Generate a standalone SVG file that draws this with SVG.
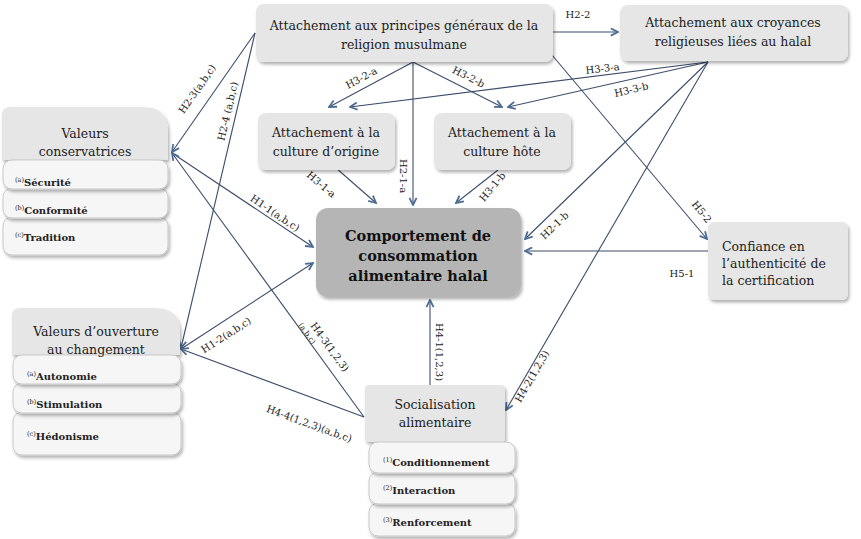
<svg xmlns="http://www.w3.org/2000/svg" width="861" height="539" viewBox="0 0 861 539">
<defs>
<filter id="sh" x="-10%" y="-10%" width="125%" height="135%">
<feDropShadow dx="1.5" dy="2.5" stdDeviation="1.8" flood-color="#000" flood-opacity="0.3"/>
</filter>
<marker id="ah" viewBox="0 0 10 10" refX="9" refY="5" markerWidth="9" markerHeight="9" markerUnits="userSpaceOnUse" orient="auto">
<path d="M1,1 L9,5 L1,9" fill="none" stroke="#4d6d94" stroke-width="2"/>
</marker>
</defs>
<style>
.box{fill:#e6e6e6;filter:url(#sh)}
.main{fill:#b5b5b5;filter:url(#sh)}
.sub{fill:#f6f6f6;stroke:#c9c9c9;stroke-width:1;filter:url(#sh)}
.t{font-family:"DejaVu Serif","Liberation Serif",serif;font-size:12.5px;fill:#222;text-anchor:middle}
.tm{font-family:"DejaVu Serif","Liberation Serif",serif;font-size:14.5px;font-weight:bold;fill:#111;text-anchor:middle}
.ts{font-family:"DejaVu Serif","Liberation Serif",serif;font-size:10px;font-weight:bold;fill:#222}
.sup{font-size:6.5px;font-weight:normal}
.c{stroke:#3d4d6a;stroke-width:1.1;fill:none}
.ca{stroke:#3d4d6a;stroke-width:1.1;fill:none;marker-end:url(#ah)}
.l{font-family:"DejaVu Serif","Liberation Serif",serif;font-size:10px;fill:#222;text-anchor:middle}
.ls{font-size:7.5px}
</style>
<rect width="861" height="539" fill="#fff"/>

<g id="connectors">
<line class="ca" x1="553" y1="32" x2="618" y2="32"/>
<line class="ca" x1="255" y1="33" x2="172" y2="152"/>
<line class="ca" x1="255" y1="33" x2="181" y2="348"/>
<line class="ca" x1="413" y1="62" x2="329" y2="107"/>
<line class="ca" x1="413" y1="62" x2="502" y2="107"/>
<line class="ca" x1="413" y1="62" x2="413" y2="205"/>
<line class="ca" x1="708" y1="62" x2="350" y2="107"/>
<line class="ca" x1="708" y1="62" x2="508" y2="107"/>
<line class="ca" x1="708" y1="62" x2="525" y2="239"/>
<line class="ca" x1="708" y1="62" x2="506" y2="410"/>
<line class="ca" x1="552" y1="55" x2="707" y2="239"/>
<line class="ca" x1="708" y1="251" x2="525" y2="251"/>
<line class="ca" x1="336" y1="168" x2="376" y2="203"/>
<line class="ca" x1="498" y1="170" x2="456" y2="203"/>
<line class="ca" x1="172" y1="153" x2="313" y2="247"/>
<line class="ca" x1="181" y1="349" x2="313" y2="263"/>
<line class="ca" x1="364" y1="417" x2="172" y2="153"/>
<line class="ca" x1="364" y1="417" x2="181" y2="349"/>
<line class="ca" x1="430" y1="386" x2="430" y2="300"/>
</g>

<g id="labels">
<text class="l" x="578" y="18">H2-2</text>
<text class="l" transform="translate(200,91) rotate(-55)">H2-3(a,b,c)</text>
<text class="l" transform="translate(231,112) rotate(-77)">H2-4 (a,b,c)</text>
<text class="l" transform="translate(363,81) rotate(-28)">H3-2-a</text>
<text class="l" transform="translate(467,80) rotate(27)">H3-2-b</text>
<text class="l" transform="translate(603,72) rotate(-7)">H3-3-a</text>
<text class="l" transform="translate(632,93) rotate(-13)">H3-3-b</text>
<text class="l" transform="translate(400,176) rotate(90)">H2-1-a</text>
<text class="l" transform="translate(319,187) rotate(40)">H3-1-a</text>
<text class="l" transform="translate(495,189) rotate(-50)">H3-1-b</text>
<text class="l" transform="translate(273,216) rotate(34)">H1-1(a,b,c)</text>
<text class="l" transform="translate(228,338) rotate(-33)">H1-2(a,b,c)</text>
<text class="l" transform="translate(327,349) rotate(54)">H4-3(1,2,3)</text>
<text class="l ls" transform="translate(305,335) rotate(54)">(a,b,c)</text>
<text class="l" transform="translate(308,427) rotate(20)">H4-4(1,2,3)(a,b,c)</text>
<text class="l" transform="translate(436,352) rotate(90)">H4-1(1,2,3)</text>
<text class="l" transform="translate(535,378) rotate(-60)">H4-2(1,2,3)</text>
<text class="l" transform="translate(557,228) rotate(-44)">H2-1-b</text>
<text class="l" transform="translate(699,214) rotate(52)">H5-2</text>
<text class="l" x="682" y="277">H5-1</text>
</g>

<g id="n-religion">
<rect class="box" x="256" y="4" width="297" height="58" rx="8"/>
<text class="t" x="404" y="30">Attachement aux principes généraux de la</text>
<text class="t" x="404" y="49">religion musulmane</text>
</g>
<g id="n-croyances">
<rect class="box" x="620" y="5" width="228" height="56" rx="8"/>
<text class="t" x="733" y="27">Attachement aux croyances</text>
<text class="t" x="733" y="46">religieuses liées au halal</text>
</g>
<g id="n-origine">
<rect class="box" x="258" y="113" width="137" height="57" rx="8"/>
<text class="t" x="326" y="137">Attachement à la</text>
<text class="t" x="326" y="156">culture d’origine</text>
</g>
<g id="n-hote">
<rect class="box" x="434" y="113" width="137" height="57" rx="8"/>
<text class="t" x="502" y="137">Attachement à la</text>
<text class="t" x="502" y="156">culture hôte</text>
</g>
<g id="n-comportement">
<rect class="main" x="316" y="208" width="205" height="89" rx="12"/>
<text class="tm" x="418" y="241">Comportement de</text>
<text class="tm" x="418" y="261">consommation</text>
<text class="tm" x="418" y="281">alimentaire halal</text>
</g>
<g id="n-confiance">
<rect class="box" x="708" y="222" width="140" height="78" rx="6"/>
<text class="t" x="722" y="251" style="text-anchor:start">Confiance en</text>
<text class="t" x="722" y="268" style="text-anchor:start">l’authenticité de</text>
<text class="t" x="722" y="285" style="text-anchor:start">la certification</text>
</g>
<g id="n-conservatrices">
<path class="box" d="M2,160 V115 Q2,107 10,107 H143 Q168,107 168,132 V160 Z"/>
<rect class="sub" x="3" y="217" width="165" height="38" rx="9"/>
<rect class="sub" x="3" y="188" width="165" height="30" rx="9"/>
<rect class="sub" x="3" y="160" width="165" height="29" rx="9"/>
<text class="t" x="85" y="138">Valeurs</text>
<text class="t" x="85" y="156">conservatrices</text>
<text class="ts" x="15" y="186"><tspan class="sup" dy="-4">(a)</tspan><tspan dy="4">Sécurité</tspan></text>
<text class="ts" x="15" y="214"><tspan class="sup" dy="-4">(b)</tspan><tspan dy="4">Conformité</tspan></text>
<text class="ts" x="15" y="241"><tspan class="sup" dy="-4">(c)</tspan><tspan dy="4">Tradition</tspan></text>
</g>
<g id="n-ouverture">
<path class="box" d="M12,355 V316 Q12,308 20,308 H155 Q180,308 180,333 V355 Z"/>
<rect class="sub" x="13" y="412" width="168" height="43" rx="9"/>
<rect class="sub" x="13" y="383" width="168" height="30" rx="9"/>
<rect class="sub" x="13" y="355" width="168" height="29" rx="9"/>
<text class="t" x="96" y="336">Valeurs d’ouverture</text>
<text class="t" x="96" y="354">au changement</text>
<text class="ts" x="27" y="380"><tspan class="sup" dy="-4">(a)</tspan><tspan dy="4">Autonomie</tspan></text>
<text class="ts" x="27" y="408"><tspan class="sup" dy="-4">(b)</tspan><tspan dy="4">Stimulation</tspan></text>
<text class="ts" x="27" y="440"><tspan class="sup" dy="-4">(c)</tspan><tspan dy="4">Hédonisme</tspan></text>
</g>
<g id="n-socialisation">
<rect class="box" x="365" y="385" width="140" height="57" rx="4"/>
<rect class="sub" x="369" y="503" width="146" height="33" rx="9"/>
<rect class="sub" x="369" y="472" width="146" height="32" rx="9"/>
<rect class="sub" x="369" y="442" width="146" height="31" rx="9"/>
<text class="t" x="435" y="409">Socialisation</text>
<text class="t" x="435" y="427">alimentaire</text>
<text class="ts" x="383" y="466"><tspan class="sup" dy="-4">(1)</tspan><tspan dy="4">Conditionnement</tspan></text>
<text class="ts" x="383" y="494"><tspan class="sup" dy="-4">(2)</tspan><tspan dy="4">Interaction</tspan></text>
<text class="ts" x="383" y="526"><tspan class="sup" dy="-4">(3)</tspan><tspan dy="4">Renforcement</tspan></text>
</g>
</svg>
